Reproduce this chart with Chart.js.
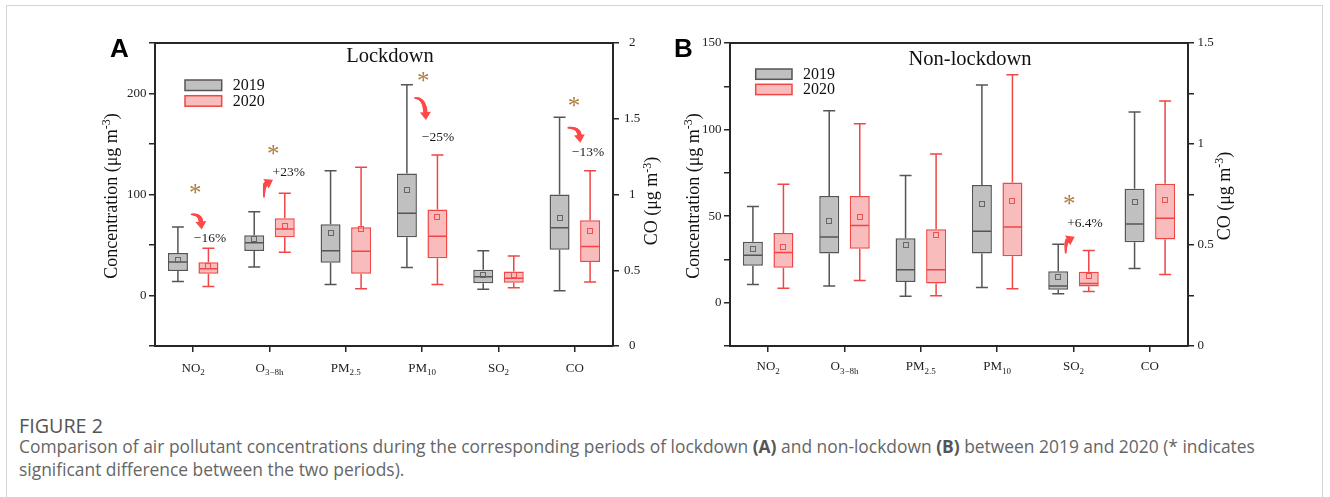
<!DOCTYPE html>
<html>
<head>
<meta charset="utf-8">
<script src="https://cdn.jsdelivr.net/npm/chart.js@4.4.1/dist/chart.umd.min.js"></script>
<style>
  html, body { margin: 0; padding: 0; background: #fff; width: 1330px; height: 497px; overflow: hidden; }
  #frame { position: absolute; left: 6px; top: 5px; width: 1317px; height: 600px; border: 1px solid #d4d4d4; box-sizing: border-box; }
  .panel { position: absolute; top: 0; width: 665px; height: 400px; }
  #wa { left: 0; }
  #wb { left: 575px; }
  #fig { position: absolute; left: 19px; top: 412px; font-family: "Open Sans"; font-size: 16px; color: #555; white-space: nowrap; }
  #cap { position: absolute; left: 19px; top: 435px; font-family: "Open Sans"; font-size: 15px; line-height: 23px; color: #666; white-space: nowrap; }
  #cap b { color: #555; }
</style>
</head>
<body>
<div id="frame"></div>
<div class="panel" id="wa"><canvas id="ca" width="665" height="400"></canvas></div>
<div class="panel" id="wb"><canvas id="cb" width="665" height="400"></canvas></div>
<div id="fig"><span id="figt">FIGURE 2</span></div>
<div id="cap"><span id="l1">Comparison of air pollutant concentrations during the corresponding periods of lockdown <b>(A)</b> and non-lockdown <b>(B)</b> between 2019 and 2020 (* indicates</span><br>significant difference between the two periods).</div>
<script>
// ---------------- DATA ----------------
const categories = ['NO2', 'O3-8h', 'PM2.5', 'PM10', 'SO2', 'CO'];
const catMain = ['NO', 'O', 'PM', 'PM', 'SO', 'CO'];
const catSub  = ['2', '3\u22128h', '2.5', '10', '2', ''];
const years = ['2019', '2020'];

// Lockdown (A) — µg m-3 ; last value (CO) on the right axis
const lock19Min  = [13.9, 28.1, 10.9, 27.8, 6.3, 0.365];
const lock19Q1   = [24.2, 44.0, 32.5, 57.6, 12.2, 0.636];
const lock19Med  = [33.1, 52.3, 44.4, 81.5, 18.6, 0.781];
const lock19Q3   = [42.0, 59.6, 70.5, 120.9, 25.5, 1.0];
const lock19Max  = [67.9, 82.8, 123.5, 208.6, 44.4, 1.51];
const lock19Mean = [34.8, 55.6, 61.9, 104.0, 20.2, 0.847];

const lock20Min  = [8.9, 42.7, 6.6, 10.9, 7.6, 0.422];
const lock20Q1   = [21.5, 57.6, 21.5, 36.8, 12.6, 0.555];
const lock20Med  = [26.5, 65.9, 43.7, 58.6, 17.2, 0.657];
const lock20Q3   = [32.8, 76.5, 67.5, 85.1, 23.8, 0.830];
const lock20Max  = [46.7, 101.3, 127.1, 139.1, 39.0, 1.157];
const lock20Mean = [29.1, 68.8, 65.9, 78.2, 20.2, 0.761];

// Non-lockdown (B)
const non19Min  = [10.5, 9.6, 3.8, 8.8, 5.2, 0.384];
const non19Q1   = [21.3, 28.4, 11.9, 28.4, 7.5, 0.514];
const non19Med  = [27.4, 38.0, 19.0, 41.3, 9.6, 0.604];
const non19Q3   = [35.2, 61.7, 37.2, 68.0, 18.2, 0.779];
const non19Max  = [55.5, 110.8, 73.5, 125.8, 33.8, 1.158];
const non19Mean = [30.9, 47.0, 33.6, 57.2, 14.8, 0.711];

const non20Min  = [8.4, 12.9, 4.0, 8.1, 6.5, 0.354];
const non20Q1   = [20.2, 31.1, 11.1, 26.9, 9.4, 0.527];
const non20Med  = [29.0, 44.6, 19.0, 43.8, 11.1, 0.632];
const non20Q3   = [40.3, 61.7, 42.4, 69.5, 17.9, 0.803];
const non20Max  = [68.4, 103.3, 85.9, 131.6, 30.1, 1.213];
const non20Mean = [32.4, 49.6, 39.0, 59.0, 15.6, 0.724];

// Significance annotations: category index, percentage text
const lockChanges = [
  { cat: 0, text: '\u221216%', dir: 'down' },
  { cat: 1, text: '+23%', dir: 'up' },
  { cat: 3, text: '\u221225%', dir: 'down' },
  { cat: 5, text: '\u221213%', dir: 'down' }
];
const nonChanges = [
  { cat: 4, text: '+6.4%', dir: 'up' }
];

// ---------------- STYLE ----------------
const AXIS = '#262626';
const GRAY = { fill: '#c0c0c0', line: '#555555', mean: '#666666' };
const RED  = { fill: '#f8bcbc', line: '#f04646', mean: '#f05050' };
const STAR = '#b07d3e';
const ARROW = '#ff4848';
const SERIF = '"Liberation Serif", "Times New Roman", serif';
Chart.defaults.font.family = SERIF;

function stats(mn, q1, md, q3, mx, mean) {
  return categories.map((c, i) => ({ min: mn[i], q1: q1[i], med: md[i], q3: q3[i], max: mx[i], mean: mean[i] }));
}
function makeDatasets(s19, s20) {
  const out = [];
  [false, true].forEach(isCO => {
    [[s19, GRAY, years[0]], [s20, RED, years[1]]].forEach(([s, col, yr]) => {
      out.push({
        label: yr + (isCO ? ' CO' : ''),
        yAxisID: isCO ? 'y2' : 'y',
        data: s.map((r, i) => ((i === 5) === isCO ? [r.q1, r.q3] : null)),
        stats: s,
        backgroundColor: col.fill,
        borderColor: col.line,
        meanColor: col.mean,
        borderWidth: 1.5,
        borderSkipped: false,
        skipNull: true,
        categoryPercentage: 0.8,
        barPercentage: 0.655
      });
    });
  });
  return out;
}

// ---------------- PLUGINS ----------------
const whiskerPlugin = {
  id: 'whiskers',
  afterDatasetsDraw(chart) {
    const ctx = chart.ctx;
    chart.data.datasets.forEach((ds, di) => {
      const meta = chart.getDatasetMeta(di);
      const ys = chart.scales[ds.yAxisID];
      meta.data.forEach((el, i) => {
        if (ds.data[i] == null) return;
        const s = ds.stats[i];
        const x = el.x, w = el.width, cap = w * 0.6;
        const p = v => ys.getPixelForValue(v);
        ctx.save();
        ctx.strokeStyle = ds.borderColor;
        ctx.lineWidth = 1.5;
        ctx.beginPath();
        ctx.moveTo(x, p(s.q3)); ctx.lineTo(x, p(s.max));
        ctx.moveTo(x - cap / 2, p(s.max)); ctx.lineTo(x + cap / 2, p(s.max));
        ctx.moveTo(x, p(s.q1)); ctx.lineTo(x, p(s.min));
        ctx.moveTo(x - cap / 2, p(s.min)); ctx.lineTo(x + cap / 2, p(s.min));
        ctx.moveTo(x - w / 2 + 0.75, p(s.med)); ctx.lineTo(x + w / 2 - 0.75, p(s.med));
        ctx.stroke();
        ctx.lineWidth = 1;
        ctx.strokeStyle = ds.meanColor;
        ctx.strokeRect(Math.round(x) - 2.5, Math.round(p(s.mean)) - 2.5, 5, 5);
        ctx.restore();
      });
    });
  }
};

function drawSubLabel(ctx, main, sub, cx, y) {
  const fMain = '13px ' + SERIF, fSub = '9px ' + SERIF;
  ctx.font = fMain; const w1 = ctx.measureText(main).width;
  ctx.font = fSub; const w2 = sub ? ctx.measureText(sub).width : 0;
  let x = cx - (w1 + w2) / 2;
  ctx.textAlign = 'left'; ctx.textBaseline = 'alphabetic';
  ctx.font = fMain; ctx.fillText(main, x, y);
  if (sub) { ctx.font = fSub; ctx.fillText(sub, x + w1, y + 3.5); }
}
function drawVerticalTitle(ctx, pre, sup, post, cx, cy, size) {
  const fMain = size + 'px ' + SERIF, fSup = Math.round(size * 0.65) + 'px ' + SERIF;
  ctx.save();
  ctx.translate(cx, cy);
  ctx.rotate(-Math.PI / 2);
  ctx.font = fMain; const w1 = ctx.measureText(pre).width, w3 = ctx.measureText(post).width;
  ctx.font = fSup; const w2 = ctx.measureText(sup).width;
  let x = -(w1 + w2 + w3) / 2;
  const base = size * 0.33;
  ctx.textAlign = 'left'; ctx.textBaseline = 'alphabetic';
  ctx.font = fMain; ctx.fillText(pre, x, base); x += w1;
  ctx.font = fSup; ctx.fillText(sup, x, base - size * 0.38); x += w2;
  ctx.font = fMain; ctx.fillText(post, x, base);
  ctx.restore();
}
function drawArrow(ctx, sx, sy, tx, ty, dir) {
  let cx, cy;
  if (dir === 'down') { cx = tx - 0.15 * (tx - sx); cy = sy; }
  else { cx = sx; cy = ty + 0.3 * (sy - ty); }
  let dx = tx - cx, dy = ty - cy; const len = Math.hypot(dx, dy); dx /= len; dy /= len;
  const L = 8, H = 5.5;
  const bx = tx - dx * L, by = ty - dy * L;
  ctx.save();
  ctx.strokeStyle = ARROW; ctx.fillStyle = ARROW;
  ctx.lineCap = 'round';
  // tapered body: thin tail, thick near head
  const N = 12;
  for (let k = 0; k < N; k++) {
    const t0 = k / N, t1 = (k + 1) / N;
    const q = t => [(1 - t) * (1 - t) * sx + 2 * (1 - t) * t * cx + t * t * bx,
                    (1 - t) * (1 - t) * sy + 2 * (1 - t) * t * cy + t * t * by];
    const a = q(t0), b = q(t1);
    ctx.lineWidth = 1.6 + 2.8 * t1;
    ctx.beginPath(); ctx.moveTo(a[0], a[1]); ctx.lineTo(b[0], b[1]); ctx.stroke();
  }
  ctx.beginPath();
  ctx.moveTo(tx, ty);
  ctx.lineTo(bx - dy * H, by + dx * H);
  ctx.lineTo(bx + dy * H, by - dx * H);
  ctx.closePath(); ctx.fill();
  ctx.restore();
}

const decoPlugin = {
  id: 'deco',
  afterDraw(chart, args, o) {
    const { ctx, chartArea: ca, scales } = chart;
    const xs = scales.x, ys = scales.y;
    ctx.save();
    // top frame line
    ctx.strokeStyle = AXIS; ctx.lineWidth = 2;
    ctx.beginPath(); ctx.moveTo(ca.left - 1, ca.top); ctx.lineTo(ca.right + 1, ca.top); ctx.stroke();
    // panel letter
    ctx.fillStyle = '#000'; ctx.font = 'bold 26px "Liberation Sans", Arial, sans-serif';
    ctx.textAlign = 'left'; ctx.textBaseline = 'alphabetic';
    ctx.fillText(o.letter, o.letterX, o.letterY);
    // title
    ctx.fillStyle = '#111'; ctx.font = '20.5px ' + SERIF; ctx.textAlign = 'center'; ctx.textBaseline = 'middle';
    ctx.fillText(o.title, o.titleX, o.titleY);
    // legend
    [[GRAY, years[0]], [RED, years[1]]].forEach(([col, yr], k) => {
      const y = o.legY + k * o.legGap;
      ctx.fillStyle = col.fill; ctx.fillRect(o.legX, y, o.legW, o.legH);
      ctx.strokeStyle = col.line; ctx.lineWidth = 1.5; ctx.strokeRect(o.legX, y, o.legW, o.legH);
      ctx.fillStyle = '#111'; ctx.font = '16px ' + SERIF; ctx.textAlign = 'left'; ctx.textBaseline = 'middle';
      ctx.fillText(yr, o.legTextX, y + o.legH / 2 + 0.5);
    });
    // x labels with subscripts
    ctx.fillStyle = '#222';
    categories.forEach((c, i) => drawSubLabel(ctx, catMain[i], catSub[i], xs.getPixelForValue(i), o.xLabelY));
    // axis titles
    ctx.fillStyle = '#111';
    drawVerticalTitle(ctx, 'Concentration (\u03bcg m', '-3', ')', o.lTitleX, o.lTitleY, 18);
    drawVerticalTitle(ctx, 'CO (\u03bcg m', '-3', ')', o.rTitleX, o.rTitleY, 18);
    // significance marks
    o.changes.forEach((c, k) => {
      const a = o.marks[k];
      const cx = xs.getPixelForValue(c.cat);
      ctx.fillStyle = STAR; ctx.font = '25px ' + SERIF; ctx.textAlign = 'center'; ctx.textBaseline = 'alphabetic';
      ctx.fillText('*', cx + a.starDx, ys.getPixelForValue(a.starV) + 11.5);
      const sx = cx + a.arrDx, sy = ys.getPixelForValue(a.arrV);
      drawArrow(ctx, sx, sy, sx + a.tipDx, sy + a.tipDy, c.dir);
      ctx.fillStyle = '#1a1a1a'; ctx.font = '13.5px ' + SERIF; ctx.textAlign = 'center'; ctx.textBaseline = 'middle';
      ctx.fillText(c.text, cx + a.txtDx, ys.getPixelForValue(a.txtV));
    });
    ctx.restore();
  }
};

// ---------------- CHART FACTORY ----------------
function axisY(pos, min, max, step, isLabeled, crossAlign, pad) {
  return {
    position: pos, min: min, max: max,
    ticks: {
      stepSize: step, autoSkip: false, color: '#222', font: { size: 13, family: SERIF },
      padding: pad, crossAlign: crossAlign,
      callback: v => (isLabeled(v) ? String(Math.round(v * 100) / 100) : '')
    },
    grid: { drawOnChartArea: false, drawTicks: true, tickLength: 6, color: AXIS, lineWidth: 1.5 },
    border: { display: true, color: AXIS, width: 2 },
    afterFit: s => { s.width = 40; }
  };
}
function makeChart(id, datasets, yLeft, yRight, deco) {
  return new Chart(document.getElementById(id), {
    type: 'bar',
    data: { labels: categories, datasets: datasets },
    options: {
      responsive: false, animation: false, devicePixelRatio: 1,
      layout: { padding: { top: 43, left: 115, right: 12, bottom: 24 } },
      plugins: { legend: { display: false }, tooltip: { enabled: false }, title: { display: false }, deco: deco },
      scales: {
        x: {
          type: 'category', offset: true,
          grid: { offset: false, drawOnChartArea: false, drawTicks: true, tickLength: 6, color: AXIS, lineWidth: 1.5 },
          border: { display: true, color: AXIS, width: 2 },
          ticks: { autoSkip: false, callback: () => '', padding: 0 },
          afterFit: s => { s.height = 30; }
        },
        y: yLeft,
        y2: yRight
      }
    },
    plugins: [whiskerPlugin, decoPlugin]
  });
}

const isMult = m => v => Math.abs(v / m - Math.round(v / m)) < 1e-9;

makeChart('ca',
  makeDatasets(stats(lock19Min, lock19Q1, lock19Med, lock19Q3, lock19Max, lock19Mean),
               stats(lock20Min, lock20Q1, lock20Med, lock20Q3, lock20Max, lock20Mean)),
  axisY('left', -50, 250, 50, v => v >= 0 && isMult(100)(v), 'near', 2.5),
  axisY('right', 0, 2, 0.5, () => true, 'center', 5),
  {
    letter: 'A', letterX: 110, letterY: 57,
    title: 'Lockdown', titleX: 390, titleY: 57,
    legX: 185, legY: 80, legGap: 15.7, legW: 36.7, legH: 10.5, legTextX: 232.7,
    xLabelY: 371.5,
    lTitleX: 111, lTitleY: 196, rTitleX: 651.5, rTitleY: 201,
    changes: lockChanges,
    marks: [
      { starDx: 2, starV: 104.5, arrDx: -1.5, arrV: 80.3, tipDx: 10, tipDy: 15, txtDx: 16.8, txtV: 56.6 },
      { starDx: 3.8, starV: 143.1, arrDx: -5.5, arrV: 97.8, tipDx: 9, tipDy: -17, txtDx: 19.2, txtV: 122.3 },
      { starDx: 1.1, starV: 215.6, arrDx: -7.2, arrV: 195.5, tipDx: 11, tipDy: 22, txtDx: 15.8, txtV: 156.9 },
      { starDx: -0.8, starV: 191.3, arrDx: -6.5, arrV: 166.1, tipDx: 12, tipDy: 15, txtDx: 13.2, txtV: 142.1 }
    ]
  });

makeChart('cb',
  makeDatasets(stats(non19Min, non19Q1, non19Med, non19Q3, non19Max, non19Mean),
               stats(non20Min, non20Q1, non20Med, non20Q3, non20Max, non20Mean)),
  axisY('left', -25, 150, 25, v => v >= 0 && isMult(50)(v), 'near', 2.5),
  axisY('right', 0, 1.5, 0.25, isMult(0.5), 'near', 3.5),
  {
    letter: 'B', letterX: 99, letterY: 57,
    title: 'Non-lockdown', titleX: 395, titleY: 60,
    legX: 180.7, legY: 69, legGap: 15.3, legW: 36.3, legH: 10.3, legTextX: 228,
    xLabelY: 370,
    lTitleX: 118, lTitleY: 196, rTitleX: 648.7, rTitleY: 196,
    changes: nonChanges,
    marks: [
      { starDx: -4.2, starV: 59.3, arrDx: -7.8, arrV: 28.9, tipDx: 9, tipDy: -16, txtDx: 11.5, txtV: 45.9 }
    ]
  });

// fit caption width to the reference line length
(function () {
  const l1 = document.getElementById('l1');
  const cap = document.getElementById('cap');
  const w = l1.getBoundingClientRect().width;
  cap.style.fontSize = (15 * 1237 / w).toFixed(2) + 'px';
  const f = document.getElementById('figt');
  const fw = f.getBoundingClientRect().width;
  document.getElementById('fig').style.fontSize = (16 * 84 / fw).toFixed(2) + 'px';
})();
</script>
</body>
</html>
